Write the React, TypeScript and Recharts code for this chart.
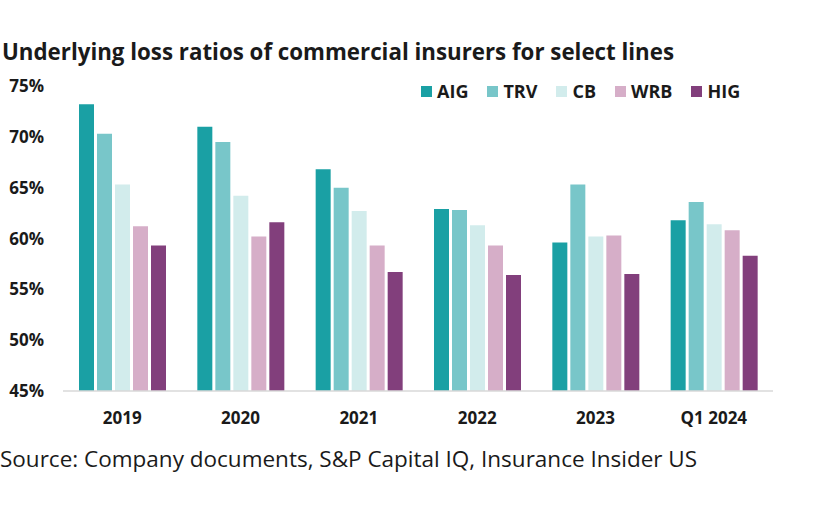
import React from 'react';
import { BarChart, Bar, XAxis, YAxis } from 'recharts';

const categories = ['2019', '2020', '2021', '2022', '2023', 'Q1 2024'];
const aig = [73.2, 71.0, 66.8, 62.9, 59.6, 61.8];
const trv = [70.3, 69.5, 65.0, 62.8, 65.3, 63.6];
const cb = [65.3, 64.2, 62.7, 61.3, 60.2, 61.4];
const wrb = [61.2, 60.2, 59.3, 59.3, 60.3, 60.8];
const hig = [59.3, 61.6, 56.7, 56.4, 56.5, 58.3];
const yTicks = [45, 50, 55, 60, 65, 70, 75];

const series = [
  { key: 'AIG', color: '#1aa0a4' },
  { key: 'TRV', color: '#78c6c9' },
  { key: 'CB', color: '#d2ecec' },
  { key: 'WRB', color: '#d6aec8' },
  { key: 'HIG', color: '#823f7c' },
];

const data = categories.map((name, i) => ({
  name,
  AIG: aig[i],
  TRV: trv[i],
  CB: cb[i],
  WRB: wrb[i],
  HIG: hig[i],
}));

const font = '"Open Sans", sans-serif';
const ink = '#1a1a1a';

const App: React.FC = () => {
  return (
    <div style={{ position: 'absolute', left: 0, top: 0, width: 840, height: 515, background: '#fff' }}>
      <div
        style={{
          position: 'absolute', left: 2, top: 38, fontFamily: font, fontWeight: 700,
          fontSize: 22.3, lineHeight: '28px', color: ink, whiteSpace: 'nowrap',
        }}
      >
        Underlying loss ratios of commercial insurers for select lines
      </div>
      <div
        style={{
          position: 'absolute', left: 421, top: 79, display: 'flex', fontFamily: font,
          fontWeight: 700, fontSize: 18, lineHeight: '24px', color: ink,
        }}
      >
        {series.map((s) => (
          <div key={s.key} style={{ display: 'flex', alignItems: 'center', marginRight: 19 }}>
            <span style={{ width: 11, height: 11, background: s.color, marginRight: 5, display: 'inline-block' }} />
            <span>{s.key}</span>
          </div>
        ))}
      </div>
      <BarChart
        width={840}
        height={515}
        data={data}
        margin={{ top: 86, right: 67, bottom: 94, left: 0 }}
        barSize={15}
        barGap={3}
      >
        <YAxis
          width={63}
          domain={[45, 75]}
          ticks={yTicks}
          tickFormatter={(v) => `${v}%`}
          axisLine={false}
          tickLine={false}
          tickSize={0}
          tickMargin={19}
          tick={{ fill: ink, fontFamily: font, fontWeight: 700, fontSize: 17 }}
          allowDataOverflow
        />
        <XAxis
          dataKey="name"
          height={30}
          axisLine={{ stroke: '#d9d9d9', strokeWidth: 1.5 }}
          tickLine={false}
          tickSize={0}
          tickMargin={21}
          tick={{ fill: ink, fontFamily: font, fontWeight: 700, fontSize: 17 }}
        />
        {series.map((s) => (
          <Bar key={s.key} dataKey={s.key} fill={s.color} isAnimationActive={false} />
        ))}
      </BarChart>
      <div
        style={{
          position: 'absolute', left: 0, top: 445, fontFamily: font, fontSize: 22.5,
          lineHeight: '28px', color: ink, whiteSpace: 'nowrap',
        }}
      >
        Source: Company documents, S&amp;P Capital IQ, Insurance Insider US
      </div>
    </div>
  );
};

export default App;
